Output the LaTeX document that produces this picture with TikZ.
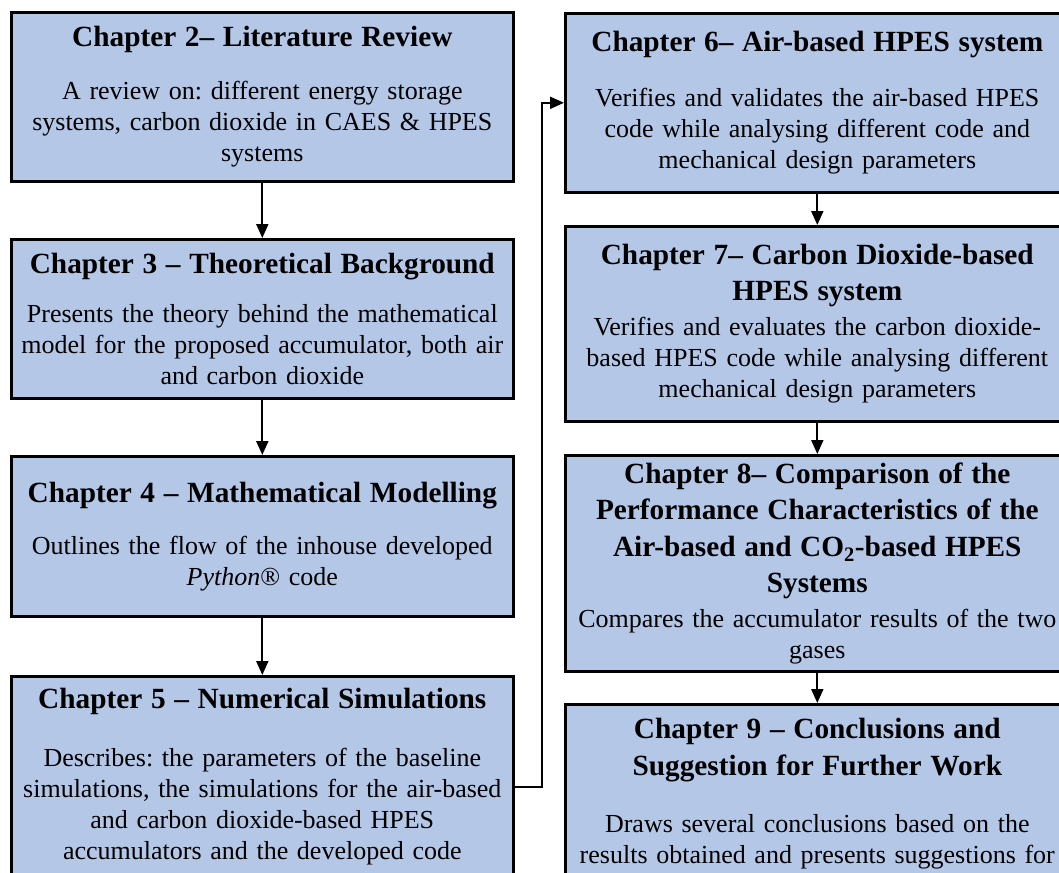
\documentclass[tikz,border=0pt]{standalone}
\usepackage{fontspec}
\setmainfont{Liberation Serif}
\usetikzlibrary{arrows.meta,positioning}
\frenchspacing

\definecolor{boxblue}{RGB}{180,199,231}
\newcommand{\hfont}{\fontsize{29.3}{36.5}\selectfont\bfseries}

\tikzset{
  chapbox/.style={draw, line width=2.6pt, fill=boxblue, anchor=north west,
    align=center, inner xsep=4pt, inner ysep=0pt,
    font=\fontsize{26}{31}\selectfont},
  leftbox/.style={chapbox, text width=494pt},
  rightbox/.style={chapbox, text width=496pt},
  arr/.style={line width=2pt, -{Triangle[length=14pt, width=12pt]}}
}

\begin{document}
\begin{tikzpicture}[x=1pt, y=-1pt]
  \useasboundingbox (0, 0) rectangle (1059, 872);

  %% 左列
  \node[leftbox, minimum height=169pt] (c2) at (10, 11)
    {{\hfont Chapter 2– Literature Review\par}\vspace{22pt}
     A review on: different energy storage\\
     systems, carbon dioxide in CAES \& HPES\\
     systems\par\vspace{8pt}};
  \node[leftbox, minimum height=159pt] (c3) at (10, 238)
    {{\hfont Chapter 3 – Theoretical Background\par}\vspace{18pt}
     Presents the theory behind the mathematical\\
     model for the proposed accumulator, both air\\
     and carbon dioxide\par\vspace{7pt}};
  \node[leftbox, minimum height=160pt] (c4) at (10, 455)
    {{\hfont Chapter 4 – Mathematical Modelling\par}\vspace{21pt}
     Outlines the flow of the inhouse developed\\
     \textit{Python}® code\par\vspace{11pt}};
  \node[leftbox, minimum height=200pt] (c5) at (10, 675)
    {{\hfont Chapter 5 – Numerical Simulations\par}\vspace{27pt}
     Describes: the parameters of the baseline\\
     simulations, the simulations for the air-based\\
     and carbon dioxide-based HPES\\
     accumulators and the developed code};

  %% 右列
  \node[rightbox, minimum height=179pt] (c6) at (564, 12)
    {{\hfont Chapter 6– Air-based HPES system\par}\vspace{24pt}
     Verifies and validates the air-based HPES\\
     code while analysing different code and\\
     mechanical design parameters\par\vspace{13pt}};
  \node[rightbox, minimum height=195pt] (c7) at (564, 225)
    {{\hfont Chapter 7– Carbon Dioxide-based\\ HPES system\par}\vspace{4pt}
     Verifies and evaluates the carbon dioxide-\\
     based HPES code while analysing different\\
     mechanical design parameters\par\vspace{8pt}};
  \node[rightbox, minimum height=216pt] (c8) at (564, 454)
    {{\hfont Chapter 8– Comparison of the\\
      Performance Characteristics of the\\
      Air-based and CO\textsubscript{2}-based HPES\\
      Systems\par}\vspace{4pt}
     Compares the accumulator results of the two\\
     gases};
  \node[rightbox, minimum height=204pt] (c9) at (564, 703)
    {{\hfont Chapter 9 – Conclusions and\\ Suggestion for Further Work\par}\vspace{26pt}
     Draws several conclusions based on the\\
     results obtained and presents suggestions for\\
     further work};

  %% 矢印
  \draw[arr] (c2) -- (c3);
  \draw[arr] (c3) -- (c4);
  \draw[arr] (c4) -- (c5);
  \draw[arr] ([yshift=-11pt]c5.east) -- ++(27, 0) |- (c6.west);
  \draw[arr] (c6) -- (c7);
  \draw[arr] (c7) -- (c8);
  \draw[arr] (c8) -- (c9);
\end{tikzpicture}
\end{document}
